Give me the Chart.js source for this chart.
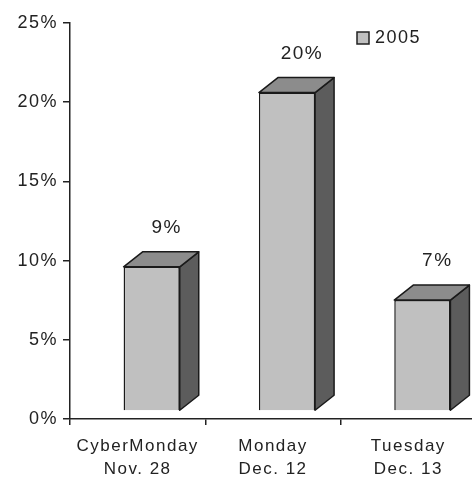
<!DOCTYPE html>
<html>
<head>
<meta charset="utf-8">
<script src="https://cdn.jsdelivr.net/npm/chart.js@4/dist/chart.umd.min.js"></script>
<style>
  html, body { margin: 0; padding: 0; background: #fff; overflow: hidden; }
  #wrap { width: 476px; height: 481px; }
</style>
</head>
<body>
<div id="wrap"><canvas id="myChartBar"></canvas></div>
<script>
// data
const dias = [['CyberMonday', 'Nov. 28'], ['Monday', 'Dec. 12'], ['Tuesday', 'Dec. 13']];
const serie2005 = [9.1, 20.1, 7.0];
const serieNome = '2005';
const yTicks = [0, 5, 10, 15, 20, 25];

// 3d look: depth offset of the boxes
const DX = 19, DY = 15;
const SHIFT_X = 14, SHIFT_Y = -8;

const familia = '"Liberation Sans", Arial, sans-serif';

const spacing = {
  id: 'spacing',
  beforeUpdate(chart) { chart.ctx.letterSpacing = '1.5px'; },
  beforeDraw(chart) { chart.ctx.letterSpacing = '1.5px'; }
};

const caixa3d = {
  id: 'caixa3d',
  beforeDatasetsDraw(chart) {
    const ctx = chart.ctx;
    ctx.save();
    ctx.translate(SHIFT_X, SHIFT_Y);
  },
  afterDatasetsDraw(chart) {
    const ctx = chart.ctx;
    const meta = chart.getDatasetMeta(0);
    ctx.lineWidth = 1.5;
    ctx.strokeStyle = '#1a1a1a';
    ctx.lineJoin = 'round';
    meta.data.forEach(bar => {
      const l = bar.x - bar.width / 2, r = bar.x + bar.width / 2;
      const t = bar.y, b = bar.base;
      // side
      ctx.beginPath();
      ctx.moveTo(r, t);
      ctx.lineTo(r + DX, t - DY);
      ctx.lineTo(r + DX, b - DY);
      ctx.lineTo(r, b);
      ctx.closePath();
      ctx.fillStyle = '#5c5c5c';
      ctx.fill();
      ctx.stroke();
      // top
      ctx.beginPath();
      ctx.moveTo(l, t);
      ctx.lineTo(l + DX, t - DY);
      ctx.lineTo(r + DX, t - DY);
      ctx.lineTo(r, t);
      ctx.closePath();
      ctx.fillStyle = '#8c8c8c';
      ctx.fill();
      ctx.stroke();
    });
    ctx.restore();

    // value labels
    ctx.save();
    ctx.font = '19px ' + familia;
    ctx.fillStyle = '#222';
    ctx.textAlign = 'center';
    ctx.textBaseline = 'middle';
    meta.data.forEach((bar, i) => {
      ctx.fillText(Math.round(serie2005[i]) + '%', bar.x + 29, bar.y - 47);
    });

    // legend
    ctx.fillStyle = '#c0c0c0';
    ctx.fillRect(357, 32, 12, 12);
    ctx.lineWidth = 1.5;
    ctx.strokeStyle = '#222';
    ctx.strokeRect(357, 32, 12, 12);
    ctx.fillStyle = '#222';
    ctx.textAlign = 'left';
    ctx.font = '18px ' + familia;
    ctx.fillText(serieNome, 375, 38.5);
    ctx.restore();
  }
};

const ctx = document.getElementById('myChartBar');
new Chart(ctx, {
  type: 'bar',
  data: {
    labels: dias,
    datasets: [{
      label: serieNome,
      data: serie2005,
      backgroundColor: '#c0c0c0',
      borderColor: '#1a1a1a',
      borderWidth: 1.5,
      barPercentage: 0.415,
      categoryPercentage: 1
    }]
  },
  options: {
    responsive: true,
    maintainAspectRatio: false,
    animation: false,
    layout: { padding: { top: 23, right: 0, left: 0, bottom: 0 } },
    plugins: {
      legend: { display: false },
      tooltip: { enabled: false }
    },
    scales: {
      x: {
        grid: { display: true, drawOnChartArea: false, offset: true, tickLength: 6, color: '#222', lineWidth: 1.5 },
        border: { color: '#222', width: 1.5 },
        ticks: { font: { family: familia, size: 17, lineHeight: 1.35 }, color: '#222', padding: 10, maxRotation: 0 },
        afterFit(scale) { scale.height = 62; }
      },
      y: {
        min: 0,
        max: 25,
        afterBuildTicks(scale) { scale.ticks = yTicks.map(v => ({ value: v })); },
        grid: { display: true, drawOnChartArea: false, tickLength: 7, color: '#222', lineWidth: 1.5 },
        border: { color: '#222', width: 1.5 },
        ticks: { font: { family: familia, size: 18 }, color: '#222', padding: 5, callback: v => v + '%' },
        afterFit(scale) { scale.width = 70; }
      }
    }
  },
  plugins: [spacing, caixa3d]
});
</script>
</body>
</html>
